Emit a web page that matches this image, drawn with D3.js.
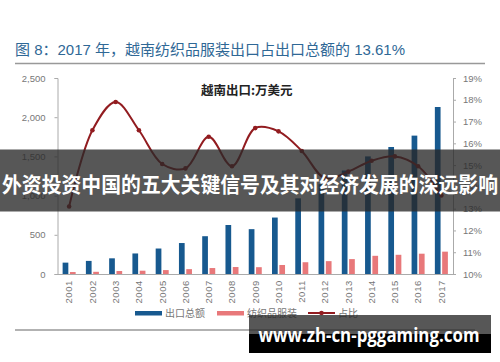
<!DOCTYPE html>
<html>
<head>
<meta charset="utf-8">
<script src="https://cdn.jsdelivr.net/npm/d3@7"></script>
<style>
  body { margin: 0; background: #fff; }
  svg { display: block; font-family: Arial, "Liberation Sans", "Noto Sans CJK SC", sans-serif; }
</style>
</head>
<body>
<svg id="chart" width="500" height="362"></svg>
<script>
// data
let years = ['2001','2002','2003','2004','2005','2006','2007','2008','2009','2010','2011','2012','2013','2014','2015','2016','2017'];
let totalExport = [145, 167, 200, 262, 325, 395, 482, 625, 572, 720, 965, 1145, 1320, 1500, 1620, 1765, 2130];
let textileExport = [25, 28, 38, 42, 50, 62, 76, 89, 87, 115, 150, 164, 190, 232, 245, 259, 285];
let share = [13.1, 16.6, 17.9, 16.6, 15.05, 14.85, 16.3, 14.95, 16.7, 16.55, 15.65, 14.4, 14.7, 15.2, 15.4, 14.95, 13.61];
let leftTicks = [0, 500, 1000, 1500, 2000, 2500];
let rightTicks = [10, 11, 12, 13, 14, 15, 16, 17, 18, 19];
let seriesNames = ['出口总额', '纺织品服装', '占比'];

let svg = d3.select('#chart');
let plotLeft = 57.5, plotRight = 453, plotTop = 78, plotBottom = 274;
let gray = '#777';

// title
svg.append('text').attr('x', 15).attr('y', 55)
  .attr('font-size', 15).attr('fill', '#2f6896')
  .attr('textLength', 390).attr('lengthAdjust', 'spacingAndGlyphs')
  .text('图 8：2017 年，越南纺织品服装出口占出口总额的 13.61%');
svg.append('line').attr('x1', 15).attr('x2', 485).attr('y1', 63.5).attr('y2', 63.5)
  .attr('stroke', '#999').attr('stroke-width', 1.5);

let x = d3.scaleBand().domain(years).range([plotLeft, plotRight]).padding(0);
let x1 = d3.scaleBand().domain(['total', 'textile']).range([0, x.bandwidth()])
  .paddingInner(0.22).paddingOuter(0.7);
let yL = d3.scaleLinear().domain([0, 2500]).range([plotBottom, plotTop]);
let yR = d3.scaleLinear().domain([10, 19]).range([plotBottom, plotTop]);

// bars
svg.append('g').selectAll('rect').data(years).enter().append('rect')
  .attr('x', function(d) { return x(d) + x1('total'); })
  .attr('y', function(d, i) { return yL(totalExport[i]); })
  .attr('width', x1.bandwidth())
  .attr('height', function(d, i) { return plotBottom - yL(totalExport[i]); })
  .attr('fill', '#17598f');
svg.append('g').selectAll('rect').data(years).enter().append('rect')
  .attr('x', function(d) { return x(d) + x1('textile'); })
  .attr('y', function(d, i) { return yL(textileExport[i]); })
  .attr('width', x1.bandwidth())
  .attr('height', function(d, i) { return plotBottom - yL(textileExport[i]); })
  .attr('fill', '#e8787a');

// axes
let axL = svg.append('g').attr('transform', 'translate(' + plotLeft + ',0)')
  .call(d3.axisLeft(yL).tickValues(leftTicks).tickSize(3).tickPadding(9).tickFormat(d3.format(',')));
let axR = svg.append('g').attr('transform', 'translate(' + plotRight + ',0)')
  .call(d3.axisRight(yR).tickValues(rightTicks).tickSize(3).tickPadding(7).tickFormat(function(d) { return d + '%'; }));
let axB = svg.append('g').attr('transform', 'translate(0,' + plotBottom + ')')
  .call(d3.axisBottom(x).tickSize(0).tickPadding(6));
[axL, axR, axB].forEach(function(a) {
  a.selectAll('path, line').attr('stroke', '#aaa');
  a.selectAll('text').attr('fill', gray).attr('font-size', 9.5).attr('font-family', 'Arial, "Liberation Sans", sans-serif');
});
axB.selectAll('text')
  .attr('transform', 'rotate(-90)')
  .attr('text-anchor', 'end')
  .attr('x', -6).attr('y', 0).attr('dy', '0.35em')
  .attr('letter-spacing', 0.6);

// share line
let line = d3.line()
  .x(function(d, i) { return x(years[i]) + x.bandwidth() / 2; })
  .y(function(d) { return yR(d); })
  .curve(d3.curveCatmullRom.alpha(0.5));
svg.append('path').datum(share).attr('d', line)
  .attr('fill', 'none').attr('stroke', '#921c20').attr('stroke-width', 2);
svg.append('g').selectAll('circle').data(share).enter().append('circle')
  .attr('cx', function(d, i) { return x(years[i]) + x.bandwidth() / 2; })
  .attr('cy', function(d) { return yR(d); })
  .attr('r', 2.3).attr('fill', '#921c20');

// unit note
svg.append('text').attr('x', 201).attr('y', 95)
  .attr('font-size', 12.5).attr('font-weight', 'bold').attr('fill', '#222')
  .attr('font-family', '"Noto Sans CJK SC", sans-serif')
  .text('越南出口:万美元');

// legend
let legend = svg.append('g').attr('font-size', 10).attr('fill', gray)
  .attr('font-family', '"Noto Sans CJK SC", sans-serif');
let legendX = [135, 217, 308];
let legendColors = ['#17598f', '#e8787a', '#921c20'];
seriesNames.forEach(function(name, i) {
  if (i < 2) {
    legend.append('rect').attr('x', legendX[i]).attr('y', 311).attr('width', 27).attr('height', 4.5)
      .attr('fill', legendColors[i]);
  } else {
    legend.append('line').attr('x1', legendX[i]).attr('x2', legendX[i] + 27).attr('y1', 313).attr('y2', 313)
      .attr('stroke', legendColors[i]).attr('stroke-width', 2);
    legend.append('circle').attr('cx', legendX[i] + 13.5).attr('cy', 313).attr('r', 2.3).attr('fill', legendColors[i]);
  }
  legend.append('text').attr('x', legendX[i] + 30).attr('y', 317).attr('fill', gray).text(name);
});

svg.append('line').attr('x1', 15).attr('x2', 475).attr('y1', 330).attr('y2', 330)
  .attr('stroke', '#999').attr('stroke-width', 1.5);

// overlay banner
svg.append('rect').attr('x', 0).attr('y', 149.5).attr('width', 500).attr('height', 62)
  .attr('fill', 'rgba(40,40,40,0.78)');
svg.append('text').attr('x', 250).attr('y', 192).attr('text-anchor', 'middle')
  .attr('font-size', 21).attr('font-weight', 'bold').attr('fill', '#fff')
  .attr('font-family', '"Noto Sans CJK SC", sans-serif')
  .attr('textLength', 496).attr('lengthAdjust', 'spacingAndGlyphs')
  .text('外资投资中国的五大关键信号及其对经济发展的深远影响');

// watermark
svg.append('rect').attr('x', 249).attr('y', 315).attr('width', 242).attr('height', 19)
  .attr('fill', 'rgba(40,40,40,0.78)');
svg.append('rect').attr('x', 249).attr('y', 334).attr('width', 242).attr('height', 19)
  .attr('fill', '#000');
svg.append('text').attr('x', 369).attr('y', 342).attr('text-anchor', 'middle')
  .attr('font-size', 19).attr('font-weight', 'bold').attr('fill', '#fff')
  .attr('font-family', '"Open Sans", "DejaVu Sans", sans-serif')
  .attr('textLength', 221).attr('lengthAdjust', 'spacingAndGlyphs')
  .text('www.zh-cn-pggaming.com');
</script>
</body>
</html>
